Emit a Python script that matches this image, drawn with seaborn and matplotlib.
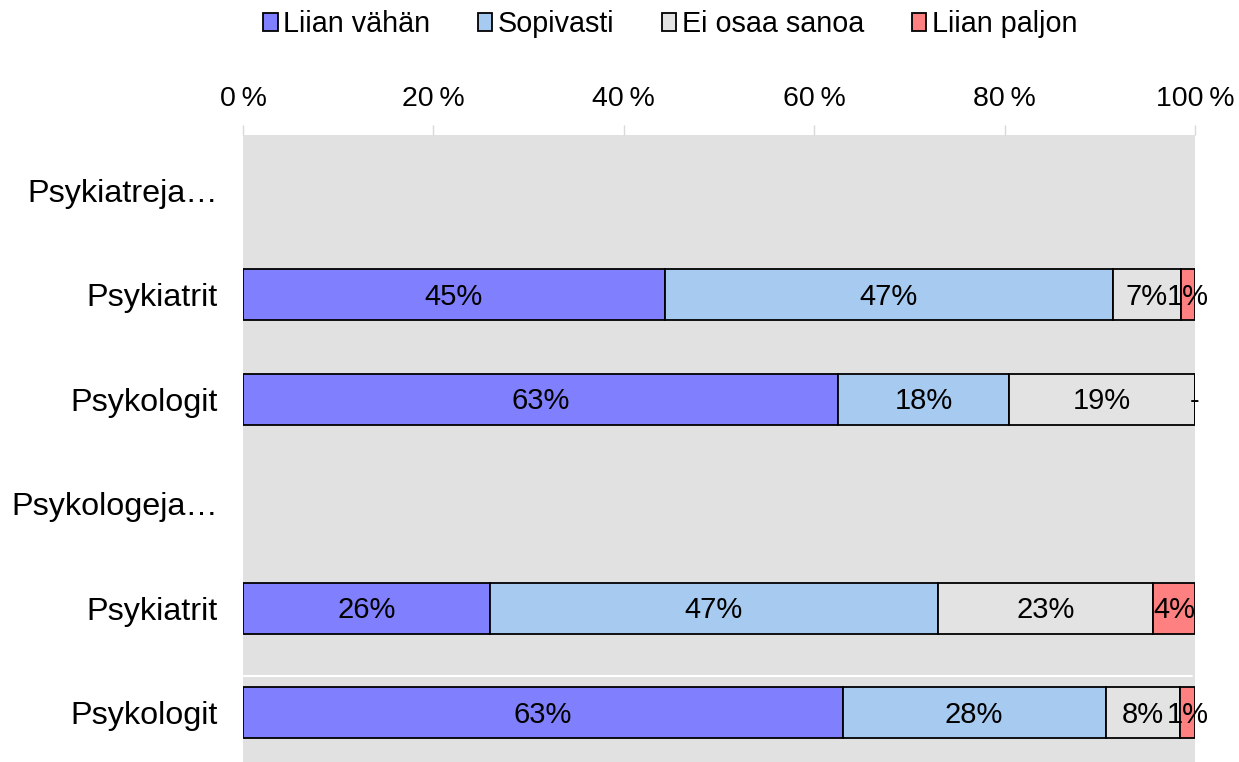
import numpy as np
import matplotlib
matplotlib.use("Agg")
import matplotlib.pyplot as plt
import seaborn as sns

# rows top to bottom (two group headers without bars)
rows = ["Psykiatreja…", "Psykiatrit", "Psykologit", "Psykologeja…", "Psykiatrit", "Psykologit"]
series = ["Liian vähän", "Sopivasti", "Ei osaa sanoa", "Liian paljon"]
colors = ["#8080FF", "#A6CAF0", "#E3E3E3", "#FF8080"]

# shares in % (NaN = header row)
liian_vahan = [np.nan, 44.3, 62.5, np.nan, 25.9, 63.0]
sopivasti = [np.nan, 47.1, 18.0, np.nan, 47.1, 27.6]
ei_osaa = [np.nan, 7.1, 19.5, np.nan, 22.6, 7.8]
liian_paljon = [np.nan, 1.5, 0.0, np.nan, 4.4, 1.6]

# data labels as printed on the chart
lbl_vahan = ["", "45%", "63%", "", "26%", "63%"]
lbl_sopivasti = ["", "47%", "18%", "", "47%", "28%"]
lbl_ei_osaa = ["", "7%", "19%", "", "23%", "8%"]
lbl_paljon = ["", "1%", "-", "", "4%", "1%"]

xticks = [0, 20, 40, 60, 80, 100]

sns.set_theme(style="white")
plt.rcParams["font.family"] = ["Liberation Sans", "DejaVu Sans"]
plt.rcParams["text.color"] = "black"
plt.rcParams["xtick.labelcolor"] = "black"
plt.rcParams["ytick.labelcolor"] = "black"

fig = plt.figure(figsize=(12.39, 7.62), dpi=100)
ax = fig.add_axes([243 / 1239, 0.0, (1195 - 243) / 1239, 1 - 135 / 762])
ax.set_facecolor("#E1E1E1")

values = [liian_vahan, sopivasti, ei_osaa, liian_paljon]
labels = [lbl_vahan, lbl_sopivasti, lbl_ei_osaa, lbl_paljon]
ypos = np.arange(len(rows))
left = np.zeros(len(rows))
for name, vals, col, lbls in zip(series, values, colors, labels):
    vals = np.array(vals, dtype=float)
    mask = ~np.isnan(vals)
    ax.barh(ypos[mask], vals[mask], left=left[mask], height=0.49, color=col,
            edgecolor="black", linewidth=1.3, label=name)
    for y, v, l0, t in zip(ypos[mask], vals[mask], left[mask], np.array(lbls)[mask]):
        ax.text(l0 + v / 2, y + 0.02, t, ha="center", va="center", fontsize=21, color="black")
    left[mask] += vals[mask]

# thin white line visible between the last two rows
ax.axhline(4.65, xmin=0, xmax=0.997, color="white", lw=1.5, zorder=0.5)

ax.set_xlim(0, 100)
ax.set_ylim(5.47, -0.53)
ax.xaxis.tick_top()
ax.set_xticks(xticks)
ax.set_xticklabels([f"{t}\u2009%" for t in xticks], fontsize=20.5)
ax.tick_params(axis="x", top=True, length=7.5, width=1, color="#D9D9D9", pad=9)
ax.set_yticks(ypos)
ax.set_yticklabels(rows, fontsize=23.3)
ax.tick_params(axis="y", length=0, pad=18)
for s in ax.spines.values():
    s.set_visible(False)

handles, hl = ax.get_legend_handles_labels()
fig.legend(handles, hl, loc="center", bbox_to_anchor=(0.541, 1 - 24 / 762), ncol=4,
           frameon=False, fontsize=20.7, handlelength=0.5, handleheight=0.6,
           handletextpad=0.2, columnspacing=1.65, borderaxespad=0)

fig.savefig("out.png", dpi=100)
